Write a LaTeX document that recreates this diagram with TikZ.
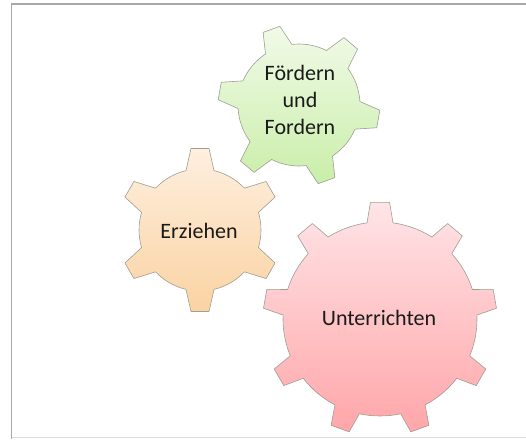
\documentclass[tikz,border=0pt]{standalone}
\usepackage{fontspec}
\setmainfont{Carlito}
\usetikzlibrary{positioning}
\usepackage{xcolor}
\definecolor{gxInk}{HTML}{1A1A1A}
\definecolor{gxFrame}{HTML}{A8A8A8}
\definecolor{gxEdge}{HTML}{9E9E94}
\definecolor{gxGreenTop}{HTML}{F1FAE8}
\definecolor{gxGreenBot}{HTML}{C9EEA9}
\definecolor{gxOrangeTop}{HTML}{FEEFDF}
\definecolor{gxOrangeBot}{HTML}{FAD3A2}
\definecolor{gxRedTop}{HTML}{FFE4E7}
\definecolor{gxRedBot}{HTML}{FFA6A9}
\tikzset{
  cog/.style={draw=gxEdge, line width=0.6pt, line join=round},
  cogG/.style={cog, top color=gxGreenTop, bottom color=gxGreenBot},
  cogO/.style={cog, top color=gxOrangeTop, bottom color=gxOrangeBot},
  cogR/.style={cog, top color=gxRedTop, bottom color=gxRedBot},
  lbl/.style={font=\fontsize{22}{27}\selectfont, text=gxInk, align=center, inner sep=0pt},
  frm/.style={draw=gxFrame, line width=1.1pt},
}
% style, centre, teeth, inner r, outer r, first tooth angle, half base, half tip
\newcommand{\cogpath}[8]{%
  \path[#1, shift={(#2)}] ({#6-#7}:#4pt)
    \foreach \k in {1,...,#3}{
      -- ({#6+(\k-1)*360/#3-#8}:#5pt) -- ({#6+(\k-1)*360/#3+#8}:#5pt)
      -- ({#6+(\k-1)*360/#3+#7}:#4pt)
      arc[start angle={#6+(\k-1)*360/#3+#7}, end angle={#6+\k*360/#3-#7}, radius=#4pt]
    } -- cycle;}

\begin{document}
\begin{tikzpicture}[x=1pt, y=1pt]
    \useasboundingbox (0,-439) rectangle (526,0);
    \draw[frm] (526,-4) -- (11.5,-4) -- (11.5,-439);
    \draw[draw=gxFrame!40, line width=0.8pt] (11.5,-437) -- (526,-437);
    % gear centres
    \coordinate (cgG) at (299,-105);
    \coordinate (cgO) at (200,-230);
    \coordinate (cgR) at (380,-319);
    \cogpath{cogG}{cgG}{6}{61}{81}{50}{13.3}{6.3}
    \cogpath{cogO}{cgO}{6}{61}{82}{90}{13.3}{6.3}
    \cogpath{cogR}{cgR}{9}{97}{117}{90}{7.7}{4.7}
    \node[lbl] (foerdern) at (300,-100) {Fördern\\und\\Fordern};
    \node[lbl] (erziehen) at (199,-231) {Erziehen};
    \node[lbl] (unterricht) at (379,-318) {Unterrichten};
\end{tikzpicture}
\end{document}
